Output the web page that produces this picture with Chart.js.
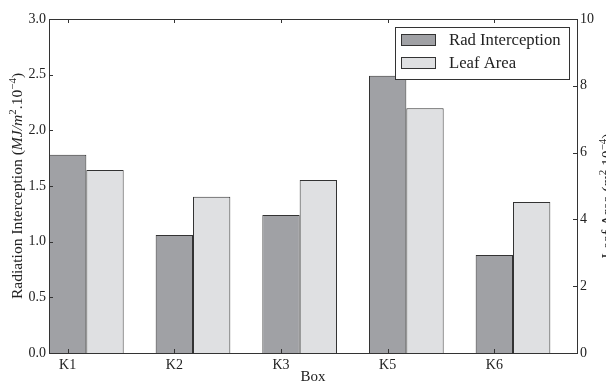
<!DOCTYPE html>
<html>
<head>
<meta charset="utf-8">
<script src="https://cdn.jsdelivr.net/npm/chart.js@4.4.1/dist/chart.umd.min.js"></script>
<style>
  html, body { margin: 0; padding: 0; background: #fff; }
</style>
</head>
<body>
<canvas id="chart" width="606" height="381"></canvas>
<script>
// ------------------- DATA -------------------
const boxes = ["K1", "K2", "K3", "K5", "K6"];
const radInterception = [1.78, 1.06, 1.24, 2.49, 0.88];
const leafArea = [5.48, 4.68, 5.18, 7.33, 4.52];
const leftTicks = [0, 0.5, 1, 1.5, 2, 2.5, 3];
const rightTicks = [0, 2, 4, 6, 8, 10];

const serif = "'Liberation Serif', 'DejaVu Serif', serif";
const ink = "#222";
const darkGray = "#a0a1a5";
const lightGray = "#dfe0e2";
const edge = "#333";

// draws a line of text with italic / superscript pieces, centered at (x, y)
function drawRich(ctx, parts, x, y, size) {
  const fontFor = p => (p.italic ? "italic " : "") + (p.sup ? size * 0.7 : size) + "px " + serif;
  let total = 0;
  parts.forEach(p => { ctx.font = fontFor(p); total += ctx.measureText(p.t).width; });
  let cx = x - total / 2;
  ctx.textAlign = "left";
  ctx.textBaseline = "alphabetic";
  parts.forEach(p => {
    ctx.font = fontFor(p);
    ctx.fillText(p.t, cx, p.sup ? y - size * 0.4 : y);
    cx += ctx.measureText(p.t).width;
  });
}

// 🔥 frame, inward ticks, axis titles and legend box
const decorations = {
  id: "decorations",
  afterDraw(chart) {
    const ctx = chart.ctx;
    const a = chart.chartArea;
    const sx = chart.scales.x, sy = chart.scales.y, sy1 = chart.scales.y1;
    ctx.save();
    ctx.strokeStyle = edge;
    ctx.lineWidth = 1;

    // ticks
    ctx.beginPath();
    boxes.forEach((b, i) => {
      const px = Math.round(sx.getPixelForValue(i)) + 0.5;
      ctx.moveTo(px, a.bottom); ctx.lineTo(px, a.bottom - 4);
      ctx.moveTo(px, a.top); ctx.lineTo(px, a.top + 4);
    });
    leftTicks.forEach(v => {
      const py = Math.round(sy.getPixelForValue(v)) + 0.5;
      ctx.moveTo(a.left, py); ctx.lineTo(a.left + 4, py);
    });
    rightTicks.forEach(v => {
      const py = Math.round(sy1.getPixelForValue(v)) + 0.5;
      ctx.moveTo(a.right, py); ctx.lineTo(a.right - 4, py);
    });
    ctx.stroke();

    // frame
    ctx.strokeRect(Math.round(a.left) + 0.5, Math.round(a.top) + 0.5,
      Math.round(a.right - a.left), Math.round(a.bottom - a.top));

    // axis titles
    ctx.fillStyle = ink;
    ctx.font = "15px " + serif;
    ctx.textAlign = "center";
    ctx.textBaseline = "top";
    ctx.fillText("Box", (a.left + a.right) / 2, 370);

    ctx.save();
    ctx.translate(22, (a.top + a.bottom) / 2);
    ctx.rotate(-Math.PI / 2);
    drawRich(ctx, [
      { t: "Radiation Interception (" },
      { t: "MJ/m", italic: true },
      { t: "2", sup: true },
      { t: ".10" },
      { t: "\u22124", sup: true },
      { t: ")" }
    ], 0, 0, 15.6);
    ctx.restore();

    ctx.save();
    ctx.translate(612, 196);
    ctx.rotate(-Math.PI / 2);
    drawRich(ctx, [
      { t: "Leaf Area (" },
      { t: "m", italic: true },
      { t: "2", sup: true },
      { t: " 10" },
      { t: "\u22124", sup: true },
      { t: ")" }
    ], 0, 0, 15.6);
    ctx.restore();

    // legend
    const lx = 395.5, ly = 27.5, lw = 174, lh = 52;
    ctx.fillStyle = "#fff";
    ctx.fillRect(lx, ly, lw, lh);
    ctx.strokeRect(lx, ly, lw, lh);
    const items = [
      { label: "Rad Interception", color: darkGray, y: 34.5 },
      { label: "Leaf Area", color: lightGray, y: 57.5 }
    ];
    items.forEach(it => {
      ctx.fillStyle = it.color;
      ctx.fillRect(401.5, it.y, 34, 11);
      ctx.strokeRect(401.5, it.y, 34, 11);
      ctx.fillStyle = ink;
      ctx.font = "16.7px " + serif;
      ctx.textAlign = "left";
      ctx.textBaseline = "middle";
      ctx.fillText(it.label, 449, it.y + 6);
    });
    ctx.restore();
  }
};

new Chart(document.getElementById("chart"), {
  type: "bar",
  data: {
    datasets: [
      {
        label: "Rad Interception",
        data: radInterception.map((v, i) => ({ x: i + 0.175, y: v })),
        backgroundColor: darkGray,
        borderColor: edge,
        borderWidth: 1,
        yAxisID: "y"
      },
      {
        label: "Leaf Area",
        data: leafArea.map((v, i) => ({ x: i + 0.175, y: v })),
        backgroundColor: lightGray,
        borderColor: edge,
        borderWidth: 1,
        yAxisID: "y1"
      }
    ]
  },
  options: {
    responsive: false,
    animation: false,
    categoryPercentage: 0.7,
    barPercentage: 1,
    layout: { padding: { top: 19, left: 0, right: 0, bottom: 0 } },
    plugins: { legend: { display: false }, tooltip: { enabled: false } },
    scales: {
      x: {
        type: "linear",
        offset: false,
        min: -0.175,
        max: 4.775,
        afterBuildTicks: axis => { axis.ticks = boxes.map((b, i) => ({ value: i })); },
        afterFit: axis => { axis.height = 28; },
        grid: { display: false, offset: false, drawTicks: false },
        border: { display: false },
        ticks: {
          padding: 4,
          color: ink,
          font: { family: serif, size: 14 },
          callback: v => boxes[v]
        }
      },
      y: {
        position: "left",
        min: 0,
        max: 3,
        afterBuildTicks: axis => { axis.ticks = leftTicks.map(v => ({ value: v })); },
        afterFit: axis => { axis.width = 49; },
        grid: { display: false, drawTicks: false },
        border: { display: false },
        ticks: {
          padding: 3,
          color: ink,
          font: { family: serif, size: 14 },
          callback: v => v.toFixed(1)
        }
      },
      y1: {
        position: "right",
        min: 0,
        max: 10,
        afterBuildTicks: axis => { axis.ticks = rightTicks.map(v => ({ value: v })); },
        afterFit: axis => { axis.width = 29; },
        grid: { display: false, drawTicks: false },
        border: { display: false },
        ticks: {
          padding: 3,
          color: ink,
          font: { family: serif, size: 14 },
          callback: v => String(v)
        }
      }
    }
  },
  plugins: [decorations]
});
</script>
</body>
</html>
